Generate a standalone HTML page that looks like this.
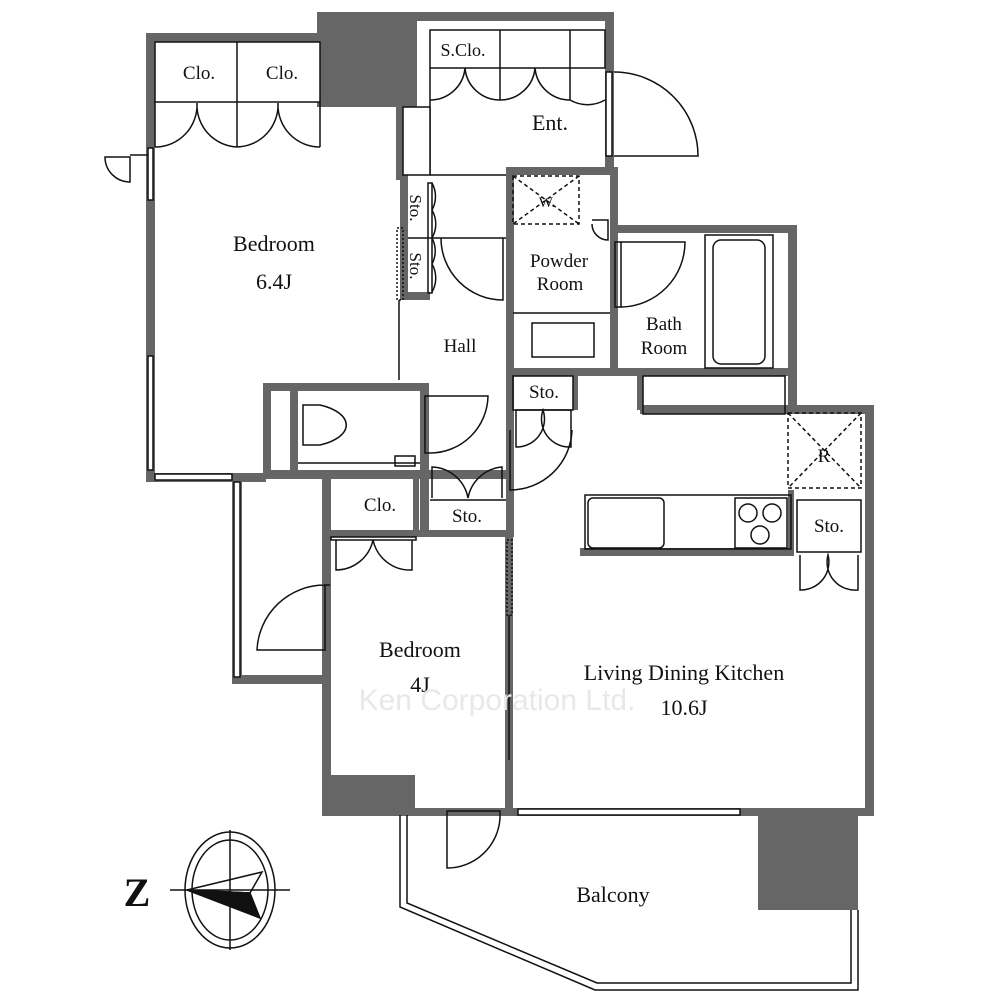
<!DOCTYPE html>
<html><head><meta charset="utf-8"><style>
body{margin:0;background:#fff}
svg{display:block}
text{font-family:"Liberation Serif",serif;fill:#111}
</style></head><body>
<svg width="1000" height="1000" viewBox="0 0 1000 1000" xmlns="http://www.w3.org/2000/svg">
<rect width="1000" height="1000" fill="#fff"/>
<g fill="#666">
<rect x="146" y="33" width="9" height="448"/>
<rect x="146" y="33" width="175" height="9"/>
<rect x="317" y="12" width="100" height="95"/>
<rect x="317" y="12" width="296" height="9"/>
<rect x="605" y="12" width="9" height="160"/>
<rect x="396" y="100" width="10" height="80"/>
<rect x="146" y="473" width="120" height="9"/>
<rect x="263" y="383" width="162" height="8"/>
<rect x="263" y="383" width="8" height="95"/>
<rect x="290" y="383" width="8" height="95"/>
<rect x="420" y="383" width="9" height="150"/>
<rect x="263" y="470" width="250" height="9"/>
<rect x="400" y="175" width="8" height="125"/>
<rect x="400" y="292" width="30" height="8"/>
<rect x="506" y="167" width="8" height="370"/>
<rect x="506" y="167" width="112" height="8"/>
<rect x="610" y="167" width="8" height="60"/>
<rect x="610" y="225" width="187" height="8"/>
<rect x="788" y="225" width="9" height="185"/>
<rect x="610" y="225" width="8" height="150"/>
<rect x="506" y="368" width="291" height="8"/>
<rect x="573" y="376" width="5" height="34"/>
<rect x="637" y="376" width="6" height="34"/>
<rect x="640" y="405" width="233" height="9"/>
<rect x="865" y="405" width="9" height="411"/>
<rect x="322" y="808" width="551" height="8"/>
<rect x="758" y="815" width="100" height="95"/>
<rect x="505" y="530" width="8" height="286"/>
<rect x="580" y="548" width="213" height="8"/>
<rect x="788" y="490" width="6" height="66"/>
<rect x="322" y="478" width="9" height="338"/>
<rect x="322" y="530" width="191" height="7"/>
<rect x="322" y="775" width="93" height="40"/>
<rect x="413" y="478" width="6" height="55"/>
<rect x="232" y="675" width="96" height="9"/>
<rect x="232" y="480" width="10" height="200"/>
</g>
<g fill="none" stroke="#111" stroke-width="1.5">
<rect x="148" y="148" width="5" height="52" fill="#fff"/>
<rect x="148" y="356" width="5" height="114" fill="#fff"/>
<rect x="155" y="474" width="77" height="6" fill="#fff"/>
<rect x="606" y="72" width="6" height="84" fill="#fff"/>
<rect x="518" y="809" width="222" height="6" fill="#fff"/>
<rect x="234" y="482" width="6" height="195" fill="#fff"/>
<rect x="155" y="42" width="165" height="60" fill="#fff"/>
<line x1="237" y1="42" x2="237" y2="147"/>
<line x1="155" y1="102" x2="155" y2="147"/>
<line x1="320" y1="102" x2="320" y2="147"/>
<path d="M155 147 A42 42 0 0 0 197 103 A42 42 0 0 0 237 147 A42 42 0 0 0 278 103 A42 42 0 0 0 320 147"/>
<path d="M148 155 H130 M105 157 A25 25 0 0 0 130 182 V157 Z"/>
<rect x="430" y="30" width="175" height="38"/>
<line x1="500" y1="30" x2="500" y2="100"/><line x1="570" y1="30" x2="570" y2="100"/>
<line x1="430" y1="68" x2="430" y2="175"/>
<path d="M430 100 A35 35 0 0 0 465 68 A35 35 0 0 0 500 100 A35 35 0 0 0 535 68 A35 35 0 0 0 570 100 A35 35 0 0 0 605 100"/>
<rect x="403" y="107" width="27" height="68" fill="#fff"/>
<path d="M614 72 A84 84 0 0 1 698 156 H614"/>
<line x1="430" y1="175" x2="506" y2="175"/>
<line x1="408" y1="238" x2="506" y2="238"/>
<rect x="428" y="183" width="4" height="110"/>
<path d="M432 183 A28 28 0 0 1 432 210 A28 28 0 0 1 432 238 A28 28 0 0 1 432 264 A28 28 0 0 1 432 292"/>
<path d="M503 238 V300 A62 62 0 0 1 441 238"/>
<rect x="397" y="228" width="6" height="72" stroke-dasharray="2 2"/>
<line x1="399" y1="300" x2="399" y2="380"/>
<rect x="513" y="176" width="66" height="48" stroke-dasharray="4 3"/>
<path d="M513 176 L579 224 M579 176 L513 224" stroke-dasharray="4 3"/>
<line x1="513" y1="313" x2="610" y2="313"/>
<rect x="532" y="323" width="62" height="34"/>
<path d="M592 220 H608 V240 A16 16 0 0 1 592 224"/>
<rect x="615" y="242" width="6" height="65"/>
<path d="M621 242 H685 A65 65 0 0 1 621 307"/>
<rect x="705" y="235" width="68" height="133"/>
<rect x="713" y="240" width="52" height="124" rx="8"/>
<rect x="513" y="376" width="60" height="34"/>
<rect x="643" y="376" width="142" height="38"/>
<path d="M516 410 V447 A28 28 0 0 0 543 410 A28 28 0 0 0 571 447 V410 Z"/>
<path d="M510 430 V490 A62 62 0 0 0 572 430"/>
<path d="M303 405 H320 A45 22 0 0 1 320 445 H303 Z"/>
<line x1="298" y1="463" x2="420" y2="463"/>
<rect x="395" y="456" width="20" height="10"/>
<path d="M425 396 V453 H430 A58 58 0 0 0 488 396 Z"/>
<path d="M432 498 V467 A38 38 0 0 1 468 498 A38 38 0 0 1 502 467 V498"/>
<line x1="430" y1="500" x2="506" y2="500"/>
<rect x="331" y="537" width="85" height="3"/>
<path d="M336 540 V570 A38 38 0 0 0 373 540 A38 38 0 0 0 412 570 V540"/>
<path d="M330 585 H325 V650 H257 A68 68 0 0 1 325 585"/>
<rect x="507" y="540" width="5" height="75" stroke-dasharray="2 2"/>
<line x1="509" y1="615" x2="509" y2="760"/>
<rect x="585" y="495" width="206" height="54"/>
<rect x="588" y="498" width="76" height="50" rx="5"/>
<rect x="735" y="498" width="52" height="50"/>
<circle cx="748" cy="513" r="9"/><circle cx="772" cy="513" r="9"/><circle cx="760" cy="535" r="9"/>
<rect x="788" y="413" width="73" height="75" stroke-dasharray="4 3"/>
<path d="M788 413 L861 488 M861 413 L788 488" stroke-dasharray="4 3"/>
<rect x="797" y="500" width="64" height="52"/>
<path d="M800 555 V590 A28 28 0 0 0 828 555 A28 28 0 0 0 858 590 V555"/>
<path d="M400 815 V907 L595 990 H858 V910" stroke-width="1.5"/>
<path d="M407 815 V903 L597 983 H851 V910"/>
<path d="M447 811 H500 V818 A53 53 0 0 1 447 868 Z"/>
<ellipse cx="230" cy="890" rx="45" ry="58"/>
<ellipse cx="230" cy="890" rx="38" ry="50"/>
<line x1="230" y1="830" x2="230" y2="950"/><line x1="170" y1="890" x2="290" y2="890"/>
<path d="M187 890 L262 872 L250 893 Z"/>
<path d="M187 890 L250 893 L260 918 Z" fill="#111"/>
</g>
<g font-size="19" text-anchor="middle">
<text x="199" y="79">Clo.</text><text x="282" y="79">Clo.</text>
<text x="463" y="56" font-size="18">S.Clo.</text>
<text x="550" y="130" font-size="22">Ent.</text>
<text x="274" y="251" font-size="22">Bedroom</text><text x="274" y="289" font-size="22">6.4J</text>
<text x="547" y="207" font-size="15">W.</text>
<text x="559" y="267">Powder</text><text x="560" y="290">Room</text>
<text x="664" y="330">Bath</text><text x="664" y="354">Room</text>
<text x="460" y="352">Hall</text>
<text x="544" y="398">Sto.</text>
<text x="824" y="462">R</text>
<text x="380" y="511">Clo.</text><text x="467" y="522">Sto.</text>
<text x="829" y="532">Sto.</text>
<text x="420" y="657" font-size="22">Bedroom</text><text x="420" y="692" font-size="22">4J</text>
<text x="684" y="680" font-size="22">Living Dining Kitchen</text><text x="684" y="715" font-size="22">10.6J</text>
<text x="613" y="902" font-size="22">Balcony</text>
<text x="137" y="906" font-size="40" font-weight="bold">Z</text>
</g>
<text x="415" y="208" font-size="17" text-anchor="middle" dy="5" transform="rotate(90 415 208)">Sto.</text>
<text x="415" y="266" font-size="17" text-anchor="middle" dy="5" transform="rotate(90 415 266)">Sto.</text>
<text x="497" y="710" font-size="30" text-anchor="middle" style="font-family:'Liberation Sans',sans-serif;fill:#e8e8e8">Ken Corporation Ltd.</text>
</svg>
</body></html>
